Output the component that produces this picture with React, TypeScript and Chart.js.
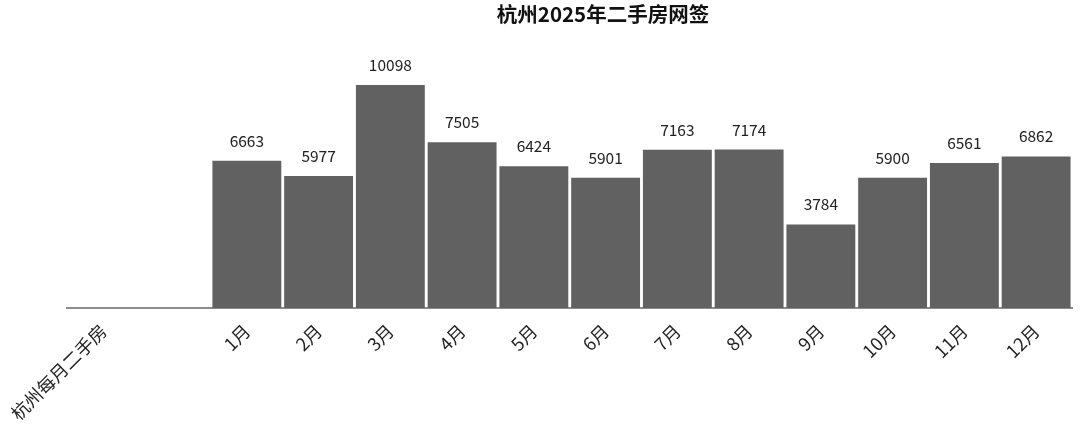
import React, { useEffect, useRef } from 'react';
import { Chart, registerables } from 'chart.js';

Chart.register(...registerables);

const categories = ['杭州每月二手房', '', '1月', '2月', '3月', '4月', '5月', '6月', '7月', '8月', '9月', '10月', '11月', '12月'];
const values: (number | null)[] = [null, null, 6663, 5977, 10098, 7505, 6424, 5901, 7163, 7174, 3784, 5900, 6561, 6862];
const titleText = '杭州2025年二手房网签';
const yMax = 12000;

const FONT = "'Noto Sans CJK SC', 'Noto Sans', sans-serif";

const valueLabelPlugin = {
  id: 'valueLabels',
  afterDatasetsDraw(chart: any) {
    const ctx = chart.ctx;
    const meta = chart.getDatasetMeta(0);
    ctx.save();
    ctx.font = `15.5px ${FONT}`;
    ctx.fillStyle = '#222';
    ctx.textAlign = 'center';
    ctx.textBaseline = 'alphabetic';
    meta.data.forEach((bar: any, i: number) => {
      const v = values[i];
      if (v == null) return;
      ctx.fillText(String(v), bar.x, bar.y - 14);
    });
    ctx.restore();
  },
};

const titlePlugin = {
  id: 'customTitle',
  afterDraw(chart: any) {
    const ctx = chart.ctx;
    ctx.save();
    ctx.font = `bold 20.5px ${FONT}`;
    ctx.fillStyle = '#111';
    ctx.textAlign = 'center';
    ctx.textBaseline = 'middle';
    ctx.fillText(titleText, 603, 14);
    ctx.restore();
  },
};

export default function App() {
  const ref = useRef<HTMLCanvasElement | null>(null);
  useEffect(() => {
    if (!ref.current) return;
    const chart = new Chart(ref.current, {
      type: 'bar',
      data: {
        labels: categories,
        datasets: [
          {
            data: values as any,
            backgroundColor: '#616161',
            borderWidth: 0,
            barPercentage: 1,
            categoryPercentage: 0.96,
          },
        ],
      },
      options: {
        animation: false,
        responsive: true,
        maintainAspectRatio: false,
        layout: { padding: { top: 43, left: 63, right: 8, bottom: 0 } },
        plugins: {
          legend: { display: false },
          title: { display: false },
          tooltip: { enabled: false },
        },
        scales: {
          x: {
            grid: { display: false, drawTicks: false },
            border: { display: true, color: '#8c8c8c', width: 2 },
            ticks: {
              autoSkip: false,
              minRotation: 45,
              maxRotation: 45,
              padding: 12,
              color: '#222',
              font: { family: FONT, size: 18 },
            },
            afterFit(scale: any) {
              scale.height = 128;
            },
          },
          y: {
            display: false,
            min: 0,
            max: yMax,
          },
        },
      },
      plugins: [valueLabelPlugin, titlePlugin],
    });
    return () => chart.destroy();
  }, []);
  return (
    <div style={{ position: 'fixed', left: 0, top: 0, width: 1080, height: 436, background: '#fff' }}>
      <canvas ref={ref} />
    </div>
  );
}
